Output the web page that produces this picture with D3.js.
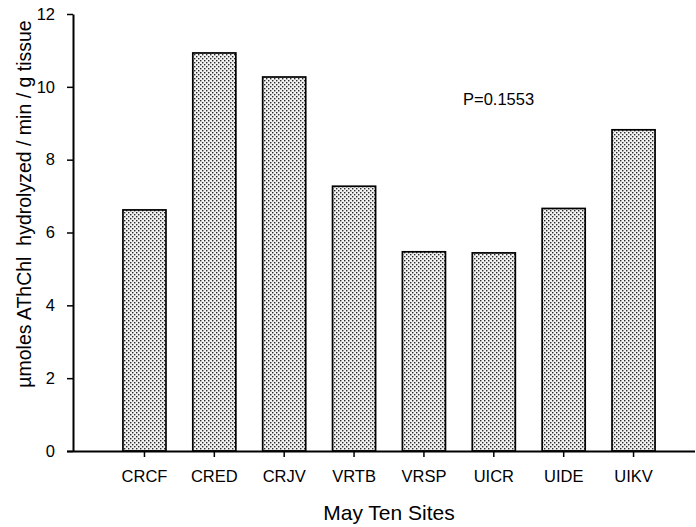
<!DOCTYPE html>
<html>
<head>
<meta charset="utf-8">
<script src="https://cdn.jsdelivr.net/npm/d3@7"></script>
<style>
  html, body { margin: 0; padding: 0; background: #fff; }
  svg { display: block; font-family: Arial, "Liberation Sans", sans-serif; }
</style>
</head>
<body>
<svg id="chart" width="696" height="527"></svg>
<script>
// Enzyme activity by site (May sampling)
const sites = ["CRCF", "CRED", "CRJV", "VRTB", "VRSP", "UICR", "UIDE", "UIKV"];
const activity = [6.62, 10.93, 10.27, 7.27, 5.47, 5.44, 6.66, 8.82];
const yTicks = [0, 2, 4, 6, 8, 10, 12];
const yLabel = "\u00b5moles AThChl  hydrolyzed / min / g tissue";
const xLabel = "May Ten Sites";
const pLabel = "P=0.1553";

const svg = d3.select("#chart");

const y = d3.scaleLinear().domain([0, 12]).range([451, 14]);
const x = d3.scaleBand().domain(sites).range([88, 690])
  .paddingInner(0.384).paddingOuter(0.5);

// stipple fill for the bars
const defs = svg.append("defs");
const pat = defs.append("pattern")
  .attr("id", "stipple").attr("patternUnits", "userSpaceOnUse")
  .attr("width", 4).attr("height", 4);
pat.append("rect").attr("width", 4).attr("height", 4).attr("fill", "#f2f2f2");
pat.append("rect").attr("x", 0).attr("y", 0).attr("width", 1.4).attr("height", 1.4).attr("fill", "#2a2a2a");
pat.append("rect").attr("x", 2).attr("y", 2).attr("width", 1.4).attr("height", 1.4).attr("fill", "#2a2a2a");

// bars
svg.append("g").selectAll("rect")
  .data(sites)
  .join("rect")
  .attr("x", d => x(d))
  .attr("y", (d, i) => y(activity[i]))
  .attr("width", x.bandwidth())
  .attr("height", (d, i) => y(0) - y(activity[i]))
  .attr("fill", "url(#stipple)")
  .attr("stroke", "#000")
  .attr("stroke-width", 1.7);

// y axis
const yAxis = svg.append("g")
  .attr("transform", "translate(73,0)")
  .call(d3.axisLeft(y).tickValues(yTicks).tickFormat(d3.format("d"))
    .tickSize(6).tickSizeOuter(0).tickPadding(12));
yAxis.select(".domain").attr("stroke-width", 2);
yAxis.selectAll(".tick line").attr("stroke-width", 1.5);
yAxis.selectAll("text").attr("font-size", 16.5).attr("fill", "#000")
  .attr("font-family", "Arial, 'Liberation Sans', sans-serif");

// x axis
const xAxis = svg.append("g")
  .attr("transform", "translate(0,451)")
  .call(d3.axisBottom(x).tickSize(6).tickSizeOuter(0).tickPadding(13));
xAxis.select(".domain").attr("d", "M67,0.5H695").attr("stroke-width", 2);
xAxis.selectAll(".tick line").attr("stroke-width", 1.5);
xAxis.selectAll("text").attr("font-size", 16.5).attr("fill", "#000")
  .attr("font-family", "Arial, 'Liberation Sans', sans-serif");

// axis titles
svg.append("text")
  .attr("x", 389).attr("y", 520)
  .attr("text-anchor", "middle")
  .attr("font-size", 21)
  .text(xLabel);

svg.append("text")
  .attr("transform", "translate(31,204) rotate(-90)")
  .attr("text-anchor", "middle")
  .attr("font-size", 19.5)
  .style("white-space", "pre")
  .text(yLabel);

// significance note
svg.append("text")
  .attr("x", 463).attr("y", 105)
  .attr("font-size", 16.5)
  .text(pLabel);
</script>
</body>
</html>
